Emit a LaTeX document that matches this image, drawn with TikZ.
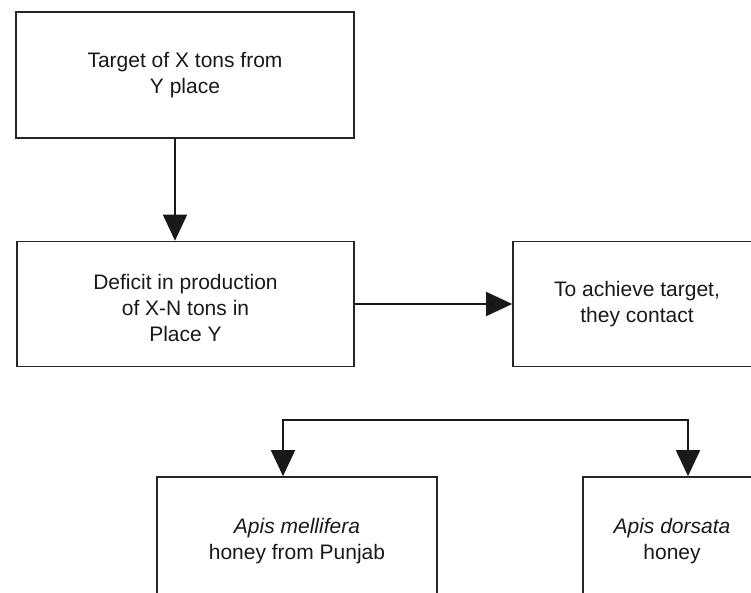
\documentclass[tikz,border=0pt]{standalone}
\usepackage{fontspec}
\setmainfont{Liberation Sans}
\usetikzlibrary{arrows.meta}

\begin{document}
\begin{tikzpicture}[x=1pt,y=1pt,
      flowbox/.style={draw=black!85,line width=1.6pt,inner sep=0pt,align=center,
         text=black!90,font=\fontsize{21}{26}\selectfont},
      flowarrow/.style={draw=black!90,line width=1.6pt,
         -{Triangle[length=26pt,width=24pt]}}]
            \useasboundingbox (0,0) rectangle (751,592);
            \clip (0,0) rectangle (751,592);

            \node [flowbox,minimum width=338pt,minimum height=126pt] (target)
               at (185,517) {Target of X tons from\\Y place};
            \node [flowbox,minimum width=337pt,minimum height=125pt] (deficit)
               at (185.5,288) {\raisebox{-6pt}[\height][\depth]{\begin{tabular}{@{}c@{}}Deficit in production\\of X-N tons in\\Place Y\end{tabular}}};
            \node [flowbox,minimum width=248pt,minimum height=125pt] (contact)
               at (637,288) {To achieve target,\\they contact};
            \node [flowbox,minimum width=280pt,minimum height=128pt] (mellifera)
               at (297,51) {\textit{Apis mellifera}\\honey from Punjab};
            \node [flowbox,minimum width=178pt,minimum height=128pt] (dorsata)
               at (672,51) {\textit{Apis dorsata}\\honey};

            \draw [flowarrow]
               ([xshift=-10pt]target.south) -- ([xshift=-10pt]target.south |- deficit.north);
            \draw [flowarrow] (deficit.east) -- (contact.west);

            \coordinate (splitL) at (283,172);
            \coordinate (splitR) at (688,172);
            \draw [flowarrow,{Triangle[length=26pt,width=24pt]}-{Triangle[length=26pt,width=24pt]}]
               (splitL |- mellifera.north) -- (splitL) -- (splitR) -- (splitR |- dorsata.north);
         \end{tikzpicture}
\end{document}
